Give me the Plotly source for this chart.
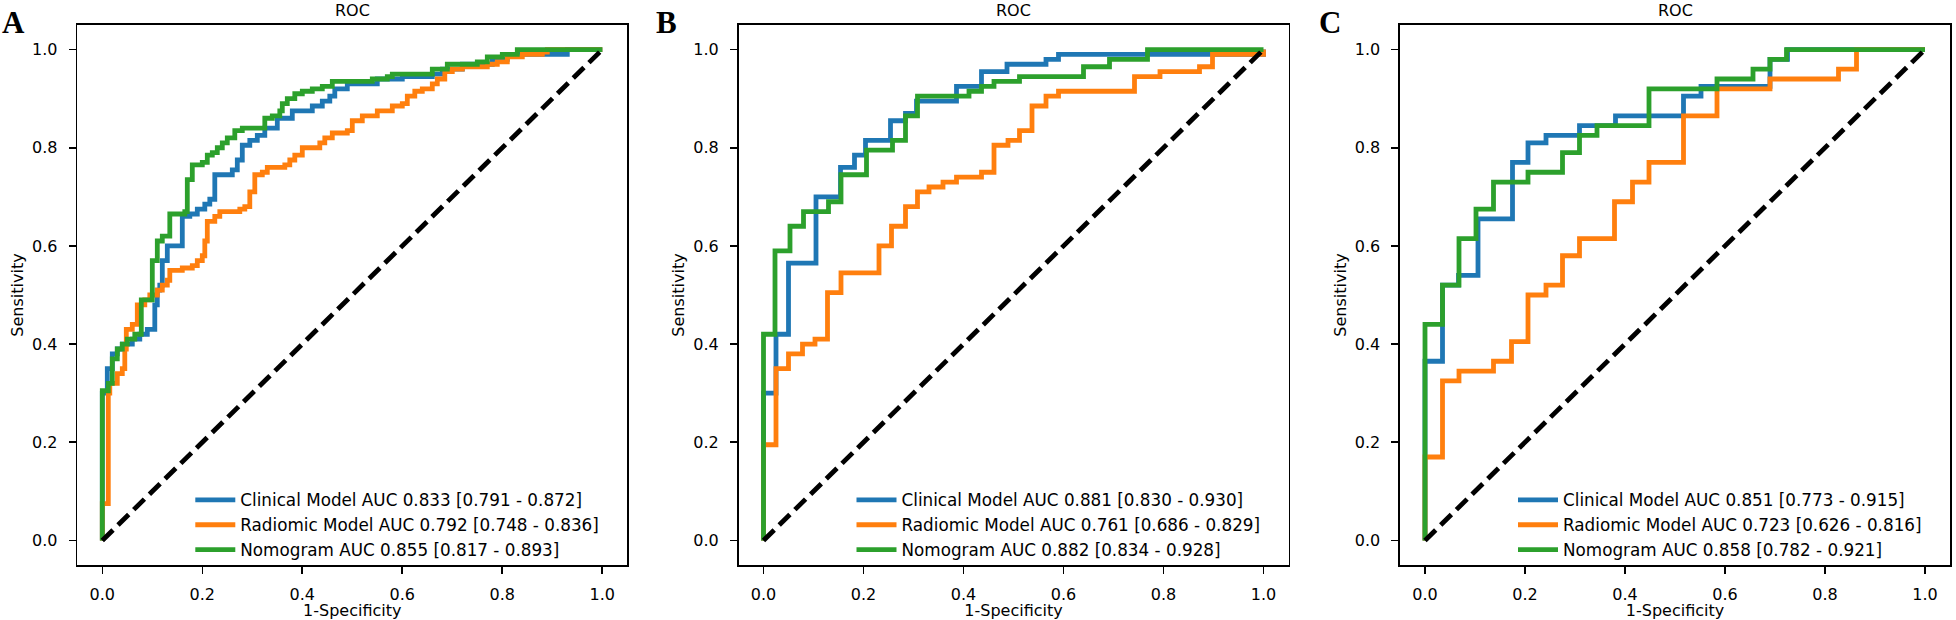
import plotly.graph_objects as go

# ---------------- data ----------------
panel_labels = ["A", "B", "C"]
model_names = ["Clinical Model", "Radiomic Model", "Nomogram"]
model_colors = ["#1f77b4", "#ff7f0e", "#2ca02c"]

auc_A = [0.833, 0.792, 0.855]
ci_low_A = [0.791, 0.748, 0.817]
ci_high_A = [0.872, 0.836, 0.893]
auc_B = [0.881, 0.761, 0.882]
ci_low_B = [0.830, 0.686, 0.834]
ci_high_B = [0.930, 0.829, 0.928]
auc_C = [0.851, 0.723, 0.858]
ci_low_C = [0.773, 0.626, 0.782]
ci_high_C = [0.915, 0.816, 0.921]

# Panel A
clinical_A_fpr = [0, 0, 0.01, 0.02, 0.03, 0.04, 0.06, 0.075, 0.09, 0.105, 0.11, 0.115, 0.12, 0.13, 0.16, 0.175,
                  0.19, 0.205, 0.215, 0.225, 0.26, 0.27, 0.28, 0.295, 0.31, 0.325, 0.35, 0.38, 0.42, 0.44, 0.455,
                  0.465, 0.49, 0.55, 0.6, 0.66, 0.68, 0.72, 0.78, 0.81, 0.93, 1.0]
clinical_A_tpr = [0, 0.30, 0.35, 0.38, 0.39, 0.40, 0.41, 0.42, 0.43, 0.48, 0.51, 0.52, 0.57, 0.60, 0.66, 0.665,
                  0.675, 0.685, 0.695, 0.745, 0.755, 0.775, 0.805, 0.815, 0.825, 0.84, 0.86, 0.875, 0.885, 0.895,
                  0.905, 0.92, 0.93, 0.94, 0.945, 0.95, 0.96, 0.97, 0.98, 0.99, 1.0, 1.0]
radiomic_A_fpr = [0, 0, 0.012, 0.015, 0.03, 0.04, 0.045, 0.048, 0.06, 0.07, 0.085, 0.095, 0.11, 0.12, 0.13, 0.135,
                  0.16, 0.18, 0.19, 0.2, 0.205, 0.21, 0.225, 0.235, 0.275, 0.285, 0.295, 0.305, 0.32, 0.33, 0.365,
                  0.375, 0.385, 0.40, 0.435, 0.445, 0.46, 0.49, 0.50, 0.52, 0.55, 0.58, 0.6, 0.61, 0.625, 0.64,
                  0.66, 0.67, 0.685, 0.70, 0.72, 0.77, 0.79, 0.81, 0.84, 0.88, 0.89, 1.0]
radiomic_A_tpr = [0, 0.075, 0.30, 0.32, 0.34, 0.35, 0.39, 0.43, 0.44, 0.48, 0.49, 0.50, 0.51, 0.52, 0.53, 0.55,
                  0.555, 0.56, 0.57, 0.58, 0.61, 0.65, 0.66, 0.67, 0.675, 0.68, 0.71, 0.745, 0.75, 0.76, 0.765,
                  0.775, 0.785, 0.80, 0.81, 0.82, 0.83, 0.835, 0.855, 0.865, 0.875, 0.885, 0.89, 0.905, 0.915,
                  0.92, 0.93, 0.94, 0.955, 0.96, 0.965, 0.97, 0.975, 0.985, 0.99, 0.995, 1.0, 1.0]
nomogram_A_fpr = [0, 0, 0.012, 0.02, 0.03, 0.04, 0.05, 0.065, 0.078, 0.1, 0.11, 0.12, 0.135, 0.165, 0.17, 0.18,
                  0.2, 0.21, 0.22, 0.23, 0.24, 0.25, 0.265, 0.28, 0.325, 0.34, 0.355, 0.36, 0.37, 0.385, 0.4,
                  0.42, 0.44, 0.46, 0.54, 0.57, 0.58, 0.66, 0.69, 0.75, 0.77, 0.8, 0.83, 1.0]
nomogram_A_tpr = [0, 0.305, 0.32, 0.37, 0.39, 0.40, 0.41, 0.42, 0.49, 0.57, 0.61, 0.62, 0.665, 0.67, 0.735, 0.765,
                  0.77, 0.785, 0.79, 0.80, 0.81, 0.82, 0.835, 0.84, 0.86, 0.865, 0.875, 0.89, 0.90, 0.91, 0.915,
                  0.92, 0.925, 0.935, 0.94, 0.945, 0.95, 0.96, 0.97, 0.975, 0.985, 0.99, 1.0, 1.0]

# Panel B
clinical_B_fpr = [0, 0, 0.025, 0.05, 0.105, 0.154, 0.182, 0.204, 0.254, 0.284, 0.306, 0.386, 0.436, 0.487, 0.565,
                  0.59, 1.0]
clinical_B_tpr = [0, 0.30, 0.42, 0.565, 0.70, 0.76, 0.785, 0.815, 0.855, 0.87, 0.895, 0.925, 0.955, 0.97, 0.98,
                  0.99, 1.0]
radiomic_B_fpr = [0, 0, 0.025, 0.05, 0.078, 0.103, 0.128, 0.155, 0.231, 0.256, 0.284, 0.308, 0.331, 0.359, 0.386,
                  0.436, 0.461, 0.489, 0.512, 0.537, 0.565, 0.59, 0.742, 0.793, 0.872, 0.898, 1.0]
radiomic_B_tpr = [0, 0.195, 0.35, 0.38, 0.40, 0.41, 0.505, 0.545, 0.60, 0.64, 0.68, 0.71, 0.72, 0.73, 0.74, 0.75,
                  0.805, 0.815, 0.835, 0.885, 0.905, 0.915, 0.945, 0.955, 0.965, 0.99, 1.0]
nomogram_B_fpr = [0, 0, 0.023, 0.053, 0.08, 0.13, 0.155, 0.206, 0.258, 0.284, 0.308, 0.411, 0.436, 0.461, 0.512,
                  0.64, 0.692, 0.768, 1.0]
nomogram_B_tpr = [0, 0.42, 0.59, 0.64, 0.67, 0.69, 0.745, 0.795, 0.815, 0.865, 0.905, 0.915, 0.925, 0.935, 0.945,
                  0.965, 0.98, 1.0, 1.0]

# Panel C
clinical_C_fpr = [0, 0, 0.035, 0.067, 0.106, 0.175, 0.206, 0.242, 0.309, 0.381, 0.517, 0.552, 0.69, 0.725, 1.0]
clinical_C_tpr = [0, 0.365, 0.52, 0.54, 0.655, 0.77, 0.81, 0.825, 0.845, 0.865, 0.905, 0.925, 0.98, 1.0, 1.0]
radiomic_C_fpr = [0, 0, 0.035, 0.068, 0.137, 0.173, 0.206, 0.242, 0.275, 0.309, 0.379, 0.415, 0.448, 0.517, 0.584,
                  0.69, 0.827, 0.863, 1.0]
radiomic_C_tpr = [0, 0.17, 0.325, 0.345, 0.365, 0.405, 0.50, 0.52, 0.58, 0.615, 0.69, 0.73, 0.77, 0.865, 0.92,
                  0.94, 0.96, 1.0, 1.0]
nomogram_C_fpr = [0, 0, 0.035, 0.068, 0.102, 0.137, 0.206, 0.275, 0.309, 0.344, 0.448, 0.584, 0.656, 0.69, 0.723,
                  1.0]
nomogram_C_tpr = [0, 0.44, 0.52, 0.615, 0.675, 0.73, 0.75, 0.79, 0.825, 0.845, 0.92, 0.94, 0.96, 0.98, 1.0, 1.0]

chance_x = [0, 1]
chance_y = [0, 1]
tick_values = [0.0, 0.2, 0.4, 0.6, 0.8, 1.0]

panels = [
    dict(curves=[(clinical_A_fpr, clinical_A_tpr), (radiomic_A_fpr, radiomic_A_tpr), (nomogram_A_fpr, nomogram_A_tpr)],
         auc=auc_A, lo=ci_low_A, hi=ci_high_A),
    dict(curves=[(clinical_B_fpr, clinical_B_tpr), (radiomic_B_fpr, radiomic_B_tpr), (nomogram_B_fpr, nomogram_B_tpr)],
         auc=auc_B, lo=ci_low_B, hi=ci_high_B),
    dict(curves=[(clinical_C_fpr, clinical_C_tpr), (radiomic_C_fpr, radiomic_C_tpr), (nomogram_C_fpr, nomogram_C_tpr)],
         auc=auc_C, lo=ci_low_C, hi=ci_high_C),
]

# ---------------- layout geometry (page pixels) ----------------
W, H = 1956, 620


def px(xp):
    return xp / W


def py(yp):
    return (H - yp) / H


box_left = [77.3, 738.5, 1400.0]
box_w = 550.0
box_top, box_bot = 25.0, 565.0
letter_x = [13.5, 666.0, 1330.0]

FONT = "DejaVu Sans"
fig = go.Figure()

for i, p in enumerate(panels):
    suffix = "" if i == 0 else str(i + 1)
    xa, ya = "x" + suffix, "y" + suffix
    leg = "legend" + suffix
    for m, (fx, ty) in enumerate(p["curves"]):
        label = f"{model_names[m]} AUC {p['auc'][m]:.3f} [{p['lo'][m]:.3f} - {p['hi'][m]:.3f}]"
        fig.add_trace(go.Scatter(
            x=fx, y=ty, mode="lines", name=label,
            line=dict(color=model_colors[m], width=4.8, shape="hv"),
            xaxis=xa, yaxis=ya, legend=leg, hoverinfo="skip"))
    fig.add_trace(go.Scatter(
        x=chance_x, y=chance_y, mode="lines", showlegend=False,
        line=dict(color="black", width=4.8, dash="15px,7px"),
        xaxis=xa, yaxis=ya, hoverinfo="skip"))

    common = dict(range=[-0.05, 1.05], tickvals=tick_values, tickformat=".1f",
                  ticks="outside", ticklen=7, tickwidth=1.6, tickcolor="black",
                  showline=True, linecolor="black", linewidth=1.6, mirror=True,
                  showgrid=False, zeroline=False, automargin=False, fixedrange=True,
                  tickfont=dict(family=FONT, size=16, color="black"))
    fig.layout["xaxis" + suffix] = dict(
        common, domain=[px(box_left[i]), px(box_left[i] + box_w)], anchor=ya,
        ticklabelstandoff=7,
        title=dict(text="1-Specificity", font=dict(family=FONT, size=16, color="black"), standoff=9))
    fig.layout["yaxis" + suffix] = dict(
        common, domain=[py(box_bot), py(box_top)], anchor=xa,
        ticklabelstandoff=8,
        title=dict(text="Sensitivity", font=dict(family=FONT, size=16, color="black"), standoff=4))
    fig.layout[leg] = dict(
        x=px(box_left[i] + 113), y=py(525), xanchor="left", yanchor="middle",
        bgcolor="rgba(0,0,0,0)", borderwidth=0, font=dict(family=FONT, size=16.8, color="black"),
        tracegroupgap=0, itemwidth=40)
    fig.add_annotation(x=px(box_left[i] + box_w / 2), y=1.0, xref="paper", yref="paper",
                       text="ROC", showarrow=False, yanchor="top", xanchor="center", borderpad=0,
                       font=dict(family=FONT, size=16, color="black"))
    fig.add_annotation(x=px(letter_x[i]), y=py(22), xref="paper", yref="paper",
                       text="<b>" + panel_labels[i] + "</b>", showarrow=False, yanchor="middle",
                       xanchor="center", font=dict(family="Liberation Serif", size=31, color="black"))

fig.update_layout(template="none", width=W, height=H, margin=dict(l=0, r=0, t=0, b=0),
                  paper_bgcolor="white", plot_bgcolor="white", showlegend=True)
fig.write_html("out.html", config={"displayModeBar": False, "staticPlot": True},
               post_script="document.body.style.margin='0px';document.body.style.overflow='hidden';")
